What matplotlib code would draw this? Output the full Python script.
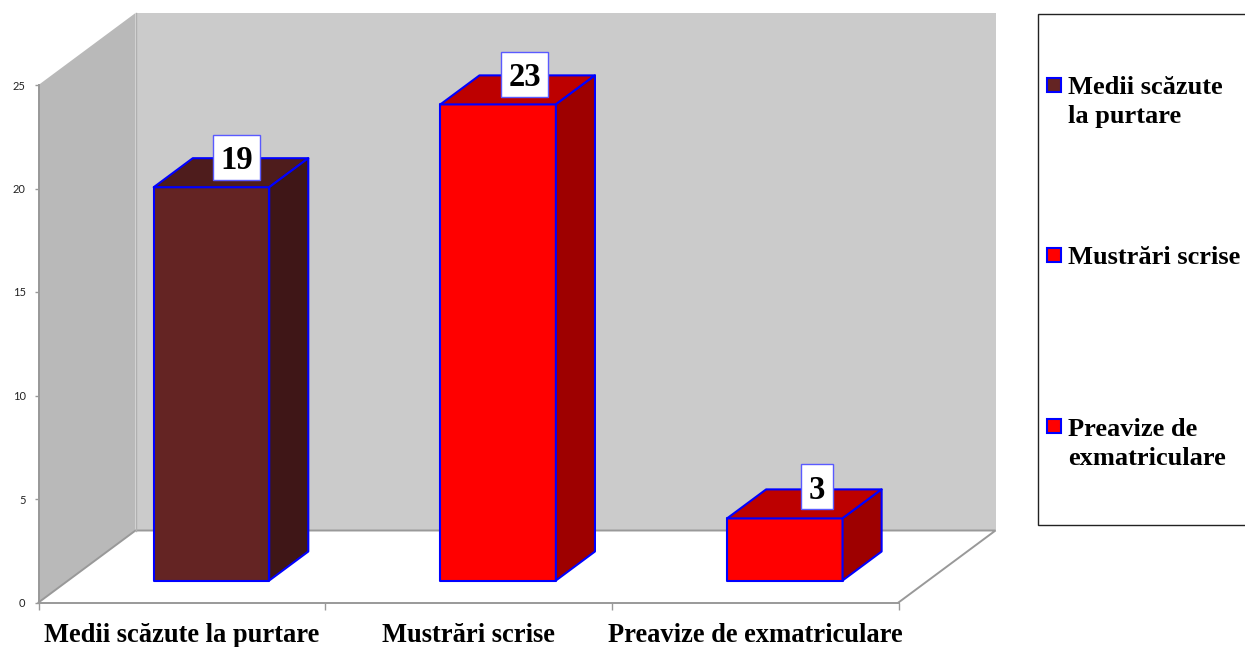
import matplotlib
matplotlib.use('Agg')
import matplotlib.pyplot as plt
from matplotlib.patches import Polygon, Rectangle

# Data
categories = ['Medii scăzute la purtare', 'Mustrări scrise', 'Preavize de exmatriculare']
values = [19, 23, 3]
y_ticks = [0, 5, 10, 15, 20, 25]
legend_labels = ['Medii scăzute\nla purtare', 'Mustrări scrise', 'Preavize de\nexmatriculare']

# Colors for the bar faces
front_colors = ['#642423', '#ff0000', '#ff0000']
top_colors = ['#4e1c1c', '#bd0000', '#bd0000']
side_colors = ['#3f1617', '#9e0000', '#9e0000']
edge_blue = '#0000ff'
grey_line = '#999999'

W, H = 1245, 647
SERIF = 'Liberation Serif'

# Pixel scale of the front plane, the 3D look is just offsets from it
x0_px, x1_px = 38.5, 898.5
y0_px, y25_px = 602.5, 85.0
px_x = (x1_px - x0_px) / 3
px_y = (y0_px - y25_px) / 25
depth_x = 97 / px_x
depth_y = 72 / px_y

fig = plt.figure(figsize=(W / 100, H / 100), dpi=100, facecolor='white')
ax = fig.add_axes([x0_px / W, 1 - y0_px / H, (x1_px - x0_px) / W, (y0_px - y25_px) / H])
ax.set_xlim(0, 3)
ax.set_ylim(0, 25)
ax.patch.set_visible(False)

# Walls
ax.add_patch(Polygon([(0, 0), (depth_x, depth_y), (depth_x, 25 + depth_y), (0, 25)],
                     closed=True, fc='#b9b9b9', ec='none', clip_on=False, zorder=1))
ax.add_patch(Polygon([(depth_x, depth_y), (3 + depth_x, depth_y),
                      (3 + depth_x, 25 + depth_y), (depth_x, 25 + depth_y)],
                     closed=True, fc='#cbcbcb', ec='none', clip_on=False, zorder=1))

# Floor lines
ax.plot([0, depth_x, 3 + depth_x, 3], [0, depth_y, depth_y, 0], color=grey_line,
        lw=1.4, clip_on=False, zorder=2, solid_joinstyle='miter')
ax.plot([depth_x, depth_x], [depth_y, 25 + depth_y], color='#b0b0b0', lw=1.0,
        clip_on=False, zorder=2)

# Bars, sitting part way into the floor
bar_w = 115.5 / px_x
front_depth = 22 / 72
bar_depth = 29 / 72
label_shift = [25.5, 26.5, 32]  # px right of the bar centre
label_lift = [1, 1, 2.5]  # px above the back edge
for i, val in enumerate(values):
    left = i + 0.5 + front_depth * depth_x - bar_w / 2
    right = left + bar_w
    base = front_depth * depth_y
    top = base + val
    dx = bar_depth * depth_x
    dy = bar_depth * depth_y
    faces = [
        ([(left, base), (right, base), (right, top), (left, top)], front_colors[i]),
        ([(left, top), (right, top), (right + dx, top + dy), (left + dx, top + dy)], top_colors[i]),
        ([(right, base), (right + dx, base + dy), (right + dx, top + dy), (right, top)], side_colors[i]),
    ]
    for pts, col in faces:
        ax.add_patch(Polygon(pts, closed=True, fc=col, ec=edge_blue, lw=1.5,
                             clip_on=False, zorder=3, joinstyle='round'))
    # Value label in a white box on the back edge of the top
    lx = (left + right) / 2 + label_shift[i] / px_x
    ly = top + dy + label_lift[i] / px_y
    box_w = (15 * len(str(val)) + 17) / px_x
    box_h = 45 / px_y
    ax.add_patch(Rectangle((lx - box_w / 2, ly - box_h / 2), box_w, box_h, fc='white',
                           ec='#5a5aff', lw=1.0, clip_on=False, zorder=4))
    ax.text(lx, ly, str(val), family=SERIF, fontweight='bold', fontsize=23.5,
            ha='center', va='center_baseline', zorder=5)

# Axes
for side in ['top', 'right']:
    ax.spines[side].set_visible(False)
for side in ['left', 'bottom']:
    ax.spines[side].set_color(grey_line)
    ax.spines[side].set_linewidth(1.4)
    ax.spines[side].set_zorder(2)
ax.set_yticks(y_ticks)
ax.set_yticklabels([str(t) for t in y_ticks], family='Lato', fontsize=8, color='#222222')
ax.tick_params(axis='y', length=3, width=1, color=grey_line, pad=6.3)
ax.set_xticks(range(4))
ax.set_xticklabels([])
ax.tick_params(axis='x', which='major', length=5, width=1, color=grey_line)
ax.set_xticks([0.5, 1.5, 2.5], minor=True)
ax.set_xticklabels(categories, minor=True, family=SERIF, fontweight='bold', fontsize=19.1)
ax.tick_params(axis='x', which='minor', length=0, pad=15)

# Legend box, drawn in pixel coordinates of the whole figure
lax = fig.add_axes([0, 0, 1, 1])
lax.set_xlim(0, W)
lax.set_ylim(H, 0)
lax.axis('off')
lax.add_patch(Rectangle((1037.5, 13.5), 220, 511.5, fc='white', ec='#222222', lw=1.0))
swatch_y = [85, 255, 426]
text_y = [102, 258, 444]
for lab, col, sy, ty in zip(legend_labels, front_colors, swatch_y, text_y):
    lax.add_patch(Rectangle((1047, sy - 7), 14, 14, fc=col, ec=edge_blue, lw=1.5))
    lax.text(1068, ty, lab, family=SERIF, fontweight='bold', fontsize=19,
             ha='left', va='center', linespacing=1.34, color='black')

fig.savefig('out.png', dpi=100, facecolor='white')
